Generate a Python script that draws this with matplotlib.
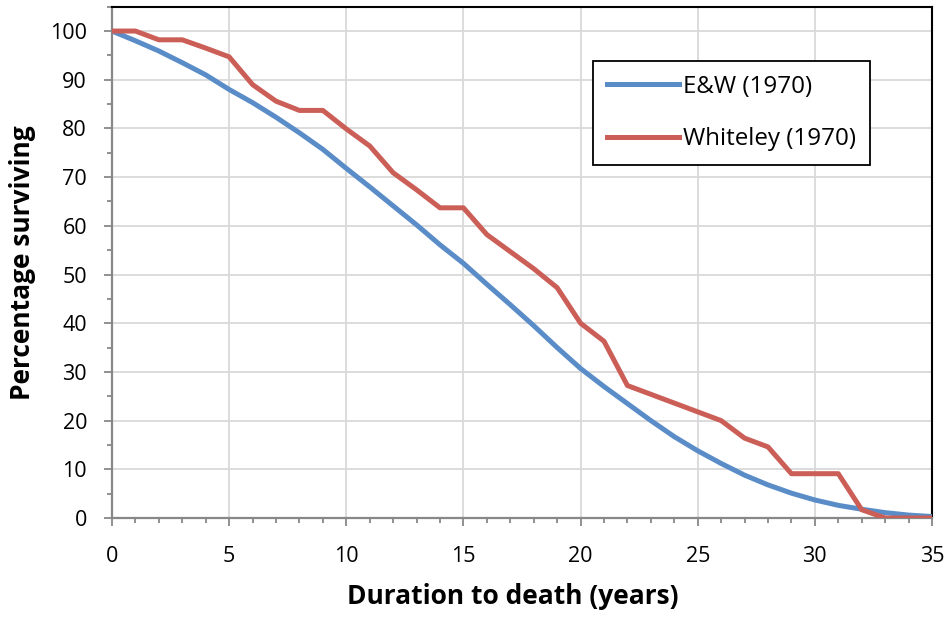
import numpy as np
import matplotlib
matplotlib.use("Agg")
import matplotlib.pyplot as plt
from matplotlib.ticker import MultipleLocator

plt.rcParams['font.family'] = ['Open Sans', 'DejaVu Sans']

# survival curves
years = list(range(0, 36))
ew_1970 = [100, 98.0, 95.9, 93.5, 91.0, 88.0, 85.3, 82.3, 79.1, 75.7,
           71.8, 68.0, 64.1, 60.2, 56.1, 52.3, 48.0, 43.8, 39.5, 35.0,
           30.7, 27.0, 23.5, 20.0, 16.7, 13.8, 11.2, 8.8, 6.8, 5.1,
           3.7, 2.6, 1.8, 1.1, 0.6, 0.3]
whiteley_1970 = [100, 100, 98.2, 98.2, 96.5, 94.7, 89.0, 85.6, 83.7, 83.7,
                 79.9, 76.4, 70.9, 67.4, 63.7, 63.7, 58.2, 54.7, 51.2, 47.3,
                 40.0, 36.3, 27.2, 25.4, 23.6, 21.8, 20.0, 16.4, 14.6, 9.1,
                 9.1, 9.1, 1.7, 0, 0, 0]

fig = plt.figure(figsize=(9.49, 6.2), dpi=100)
ax = fig.add_axes([112/949, 1-518/620, 820/949, 511.3/620])

ax.plot(years, ew_1970, color='#5A8DC8', lw=3.6, label='E&W (1970)', zorder=3)
ax.plot(years, whiteley_1970, color='#CB5F57', lw=3.6, label='Whiteley (1970)', zorder=3)

ax.set_xlim(0, 35)
ax.set_ylim(0, 105)
ax.xaxis.set_major_locator(MultipleLocator(5))
ax.xaxis.set_minor_locator(MultipleLocator(1))
ax.set_yticks(range(0, 101, 10))
ax.yaxis.set_minor_locator(MultipleLocator(5))

ax.grid(True, which='major', color='#D9D9D9', lw=1.3, zorder=0)
ax.set_axisbelow(True)

for s in ['left', 'bottom']:
    ax.spines[s].set_color('#888888')
    ax.spines[s].set_linewidth(1.6)
for s in ['top', 'right']:
    ax.spines[s].set_color('black')
    ax.spines[s].set_linewidth(1.5)

ax.tick_params(which='major', direction='out', length=6, width=1.3, color='#888888',
               labelsize=15.5)
ax.tick_params(axis='x', which='major', pad=14)
ax.tick_params(axis='y', which='major', pad=12)
ax.tick_params(which='minor', direction='out', length=3.5, width=1.3, color='#888888')

ax.set_xlabel('Duration to death (years)', fontsize=19, fontweight='bold', labelpad=12)
ax.xaxis.label.set_x(0.489)
ax.set_ylabel('Percentage surviving', fontsize=19, fontweight='bold', labelpad=10)

leg = ax.legend(loc='upper left', bbox_to_anchor=(0.586, 0.894), borderaxespad=0,
                fontsize=17.4, handlelength=3.0, handletextpad=0.15, labelspacing=1.17,
                fancybox=False, framealpha=1, edgecolor='black', borderpad=0.58)
leg.get_frame().set_linewidth(1.3)

fig.savefig('out.png', dpi=100)
